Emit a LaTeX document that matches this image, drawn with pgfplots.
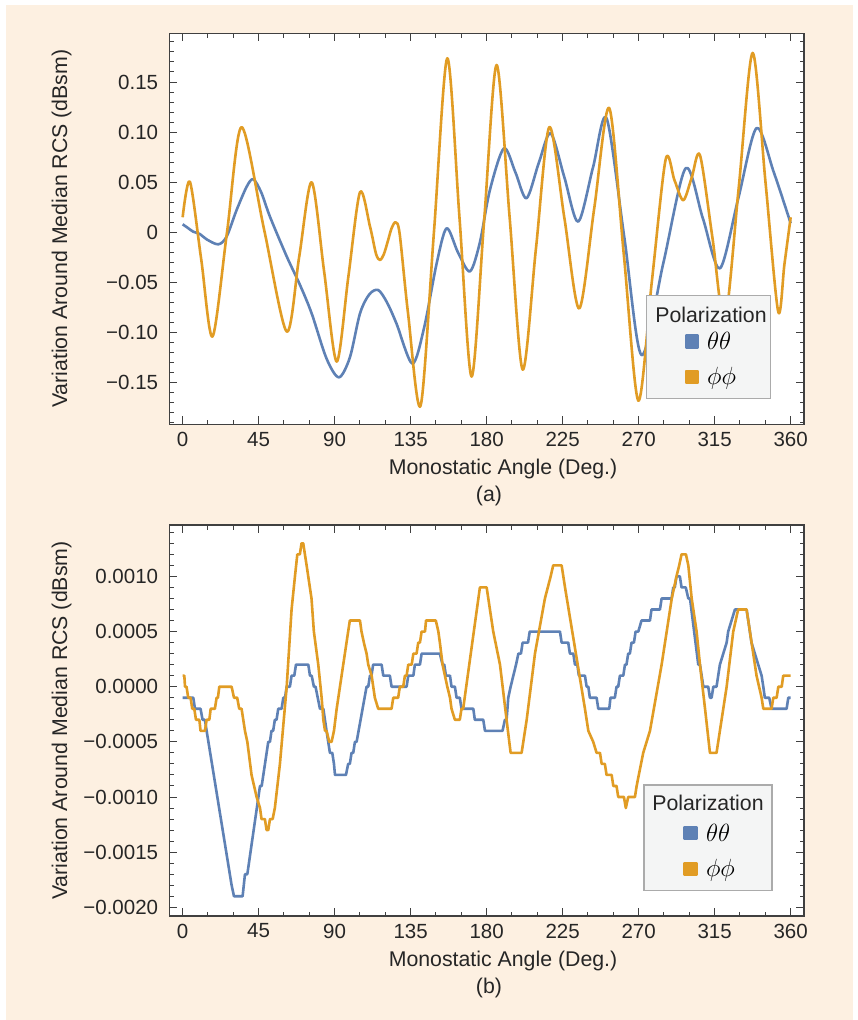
\documentclass[border=0pt]{standalone}
\usepackage{pgfplots}
\pgfplotsset{compat=1.18}
\usepackage{fontspec}
\setmainfont{Liberation Sans}
\definecolor{bgpeach}{HTML}{FDF0E1}
\definecolor{mblue}{HTML}{5E81B5}
\definecolor{morange}{HTML}{E19C24}
\definecolor{framecol}{HTML}{404040}
\definecolor{txtcol}{HTML}{262626}
\definecolor{legfill}{HTML}{F4F5F5}
\definecolor{legdraw}{HTML}{ABABAB}
\newcommand\fs{\fontsize{20.5}{24}\selectfont}
\newcommand\fl{\fontsize{21.3}{25}\selectfont}
\pgfplotsset{
 rcs/.style={
  scale only axis, width=634.7pt, height=391pt,
  xmin=-7.9, xmax=367.9,
  xtick={0,45,...,360}, xticklabels={0,45,90,135,180,225,270,315,360},
  minor xtick={15,30,60,75,105,120,150,165,195,210,240,255,285,300,330,345},
  tick align=inside, major tick length=8pt, minor tick length=4.5pt,
  axis line style={framecol, line width=1.1pt},
  every tick/.style={framecol, line width=1pt},
  axis background/.style={fill=white},
  tick label style={font=\fs, text=txtcol},
  xticklabel style={anchor=center, yshift=-15pt},
  yticklabel style={anchor=east, inner sep=0pt, xshift=-11pt},
  xlabel={Monostatic Angle (Deg.)},
  ylabel={Variation Around Median RCS (dBsm)},
  every axis x label/.style={at={(axis description cs:0.5258,-0.1151)}, anchor=center, font=\fl, text=txtcol},
  every axis y label/.style={at={(axis description cs:-0.1695,0.5)}, anchor=center, rotate=90, font=\fl, text=txtcol},
  clip mode=individual,
  legend cell align=left,
  legend image code/.code={\fill[##1] (0pt,-6pt) rectangle (12pt,6pt); \path (20pt,0pt);},
  legend style={draw=none, fill=none, inner sep=0pt, anchor=west, row sep=17pt, font=\fontsize{23}{27}\selectfont, nodes={inner sep=0pt}},
  every axis plot/.append style={line width=2.6pt, line join=round},
 }
}
\begin{document}
\begin{tikzpicture}
\fill[white] (0pt,0pt) rectangle (857pt,-1020pt);
\fill[bgpeach] (6pt,-5pt) rectangle (853.3pt,-1020pt);

% ---------------- (a) ----------------
\begin{scope}[xshift=169.3pt, yshift=-424.3pt]
\begin{axis}[rcs, at={(0pt,0pt)}, anchor=south west,
  ymin=-0.1916, ymax=0.1986,
  ytick={-0.15,-0.1,-0.05,0,0.05,0.1,0.15},
  yticklabels={−0.15,−0.10,−0.05,0,0.05,0.10,0.15},
  minor ytick={-0.19,-0.18,-0.17,-0.16,-0.14,-0.13,-0.12,-0.11,-0.09,-0.08,-0.07,-0.06,-0.04,-0.03,-0.02,-0.01,0.01,0.02,0.03,0.04,0.06,0.07,0.08,0.09,0.11,0.12,0.13,0.14,0.16,0.17,0.18,0.19},
  legend style={at={(0.8114,0.1665)}},
  legend entries={$\theta\theta$,$\phi\phi$},
]
\addplot[mblue, smooth] coordinates {
(0,0.008)(3,0.0045)(6.3,0.0006)(10.2,-0.0017)(14.2,-0.007)(21.1,-0.012)(26.0,-0.0044)(31.9,0.022)(37.9,0.0455)(41.8,0.053)(46.5,0.040)(51.7,0.0156)(61.6,-0.024)(69.5,-0.0526)(76.4,-0.081)(85.2,-0.126)(92.5,-0.1447)(99,-0.125)(105,-0.081)(110.5,-0.062)(115.8,-0.0576)(121,-0.07)(126.6,-0.091)(136.0,-0.131)(143,-0.095)(150.4,-0.031)(156.3,0.004)(163,-0.02)(170.1,-0.039)(176,-0.01)(181.9,0.042)(190.2,0.0838)(197,0.06)(203.6,0.034)(211,0.07)(217.9,0.0988)(226,0.055)(234.2,0.0106)(243,0.065)(251.0,0.1138)(261.5,-0.005)(271.7,-0.1225)(284.7,-0.03)(297.8,0.0639)(308,0.014)(318.1,-0.036)(329,0.034)(339.8,0.104)(350,0.06)(360,0.009)
};
\addplot[morange, smooth] coordinates {
(0,0.015)(4.3,0.0505)(11.0,-0.027)(17.7,-0.104)(26.3,0.0005)(34.9,0.105)(48.2,0.003)(61.6,-0.099)(69.0,-0.0245)(76.4,0.050)(83.8,-0.0395)(91.2,-0.129)(98.1,-0.0445)(105.0,0.040)(110.9,0.006)(114.5,-0.0215)(116.8,-0.0276)(119.1,-0.022)(121.5,-0.0088)(123.7,0.004)(126.1,0.010)(128.5,-0.0016)(133.5,-0.0815)(140.9,-0.173)(148.8,0.0004)(156.7,0.1737)(163.9,0.015)(171.1,-0.144)(178.5,0.0115)(185.9,0.167)(193.6,0.015)(201.3,-0.137)(209.2,-0.016)(217.1,0.105)(226.0,0.0145)(234.8,-0.076)(243.7,0.024)(252.6,0.124)(261.2,-0.022)(269.8,-0.168)(277.9,-0.0476)(286.0,0.0728)(291.2,0.052)(296.4,0.032)(301.4,0.0545)(306.3,0.077)(313.7,-0.0055)(321.0,-0.088)(329.3,0.0455)(337.5,0.179)(345.1,0.05)(352.6,-0.079)(356.3,-0.032)(360,0.015)
};
\draw[legdraw, fill=legfill, line width=1.3pt] (rel axis cs:0.7522,0.0665) rectangle (rel axis cs:0.9475,0.3289);
\node[font=\fl, text=txtcol] at (rel axis cs:0.8535,0.2795) {Polarization};
\end{axis}
\end{scope}
\node[font=\fl, text=txtcol] at (489pt,-496.3pt) {(a)};

% ---------------- (b) ----------------
\begin{scope}[xshift=169.3pt, yshift=-916pt]
\begin{axis}[rcs, at={(0pt,0pt)}, anchor=south west,
  ymin=-20.79, ymax=14.66,
  ytick={-20,-15,-10,-5,0,5,10},
  yticklabels={−0.0020,−0.0015,−0.0010,−0.0005,0.0000,0.0005,0.0010},
  minor ytick={-19,-18,-17,-16,-14,-13,-12,-11,-9,-8,-7,-6,-4,-3,-2,-1,1,2,3,4,6,7,8,9,11,12,13,14},
  legend style={at={(0.8098,0.1662)}},
  legend entries={$\theta\theta$,$\phi\phi$},
]
% values in units of 0.0001 dBsm
\addplot[mblue, sharp plot] coordinates {
(0,-1)(6.3,-1)(7.3,-2)(10.6,-2)(11.8,-3)(13.2,-3)(14.2,-4)(29,-18)(30.4,-19)(35.5,-19)(36.9,-17)(38.3,-17)(45.8,-9)(46.8,-9)(50.7,-5)(51.7,-5)(52.6,-4)(53.6,-4)(54.6,-3)(55.6,-3)(56.6,-2)(58.6,-2)(59.6,-1)(60.6,-1)(61.6,0)(63.5,0)(64.5,1)(66.1,1)(67.1,2)(74.4,2)(75.4,1)(76.4,1)(77.7,0)(78.7,0)(81.3,-2)(83.3,-2)(85.2,-4)(86.2,-5)(87.2,-6)(88.6,-6)(89.6,-7)(90.2,-8)(96.7,-8)(98.0,-7)(99,-7)(100,-6)(101,-6)(102,-5)(103,-5)(108.9,0)(109.9,0)(110.9,1)(111.8,1)(112.8,2)(117.8,2)(118.8,1)(122.7,1)(123.7,0)(132.6,0)(133.6,1)(136.6,1)(137.5,2)(140.5,2)(141.5,3)(152.3,3)(153.9,2)(154.9,2)(155.9,1)(158.3,1)(159.2,0)(161.2,0)(162.2,-1)(164.1,-1)(165.1,-2)(172.1,-2)(173.0,-3)(178.0,-3)(179.0,-4)(189.4,-4)(190.8,-3)(191.8,-3)(192.8,-1)(194.2,0)(195.8,1)(197.4,2)(198.8,3)(200.3,3)(201.3,4)(204.5,4)(205.5,5)(223.4,5)(224.4,4)(228.3,4)(229.3,3)(231.3,3)(232.3,2)(233.7,2)(234.6,1)(238.2,1)(239.2,0)(240.2,0)(241.1,-1)(245.1,-1)(246.1,-2)(252.6,-2)(253.3,-1)(255.9,-1)(256.9,0)(257.9,0)(258.9,1)(260.9,1)(261.9,2)(262.8,2)(263.8,3)(264.8,3)(265.8,4)(267.2,4)(268.2,5)(269.8,5)(271.7,6)(276.7,6)(277.6,7)(282.6,7)(283.6,8)(289.5,8)(290.5,9)(291.4,9)(292.4,10)(294.4,10)(295.4,9)(297.9,9)(299.4,8)(300.4,8)(305.3,2)(306.3,2)(307.3,1)(308.3,0)(311.2,0)(312.2,-1)(313.2,-1)(314.2,0)(316.1,0)(317.1,1)(318.1,2)(320.1,3)(322.1,4)(323.0,5)(325.0,6)(327.0,7)(333.9,7)(334.9,6)(336.8,4)(338.8,3)(340.8,2)(342.8,1)(343.8,0)(344.7,-1)(347.3,-1)(348.7,-2)(357.6,-2)(358.6,-1)(360,-1)
};
\addplot[morange, sharp plot] coordinates {
(0,1)(1.0,1)(1.4,0)(2.3,0)(3.3,-1)(4.7,-1)(5.7,-2)(6.9,-2)(7.9,-3)(9.9,-3)(10.6,-4)(13.2,-4)(14.2,-3)(15.8,-3)(16.6,-2)(19.1,-2)(20.1,-1)(20.9,-1)(21.7,0)(29.0,0)(30.4,-1)(32.3,-1)(33.5,-2)(34.9,-2)(35.9,-3)(36.9,-4)(38.3,-5)(40.8,-8)(43.8,-10)(45.8,-11)(46.7,-12)(48.7,-12)(49.7,-13)(50.7,-13)(51.7,-12)(53.3,-12)(54.6,-11)(57.6,-7)(61.6,0)(64.5,7)(66.5,10)(67.9,12)(69.4,12)(70.4,13)(71.4,13)(73.4,11)(76.3,8)(77.7,5)(80.3,2)(82.3,-1)(83.3,-3)(84.3,-4)(85.2,-4)(86.8,-5)(88.2,-5)(89.6,-4)(91.2,-2)(98.0,5)(99.0,6)(105.0,6)(105.9,5)(107.3,4)(108.9,3)(109.9,2)(111.9,1)(113.8,-1)(115.8,-2)(123.7,-2)(124.7,-1)(127.6,-1)(128.6,0)(130.6,0)(131.6,1)(132.6,1)(133.6,2)(135.6,2)(136.6,3)(138.5,3)(139.5,4)(140.5,4)(141.5,5)(143.5,5)(144.1,6)(149.9,6)(151.4,5)(152.3,4)(153.9,2)(156.7,0)(158.3,-1)(159.2,-2)(161.2,-3)(164.1,-3)(165.1,-2)(166.1,-2)(176.0,9)(180.0,9)(183.9,5)(187.9,2)(191.8,-3)(194.2,-6)(200.7,-6)(201.7,-5)(203.7,-3)(208.6,3)(214.5,8)(217.9,10)(219.4,11)(224.4,11)(226.4,9)(238.2,-2)(240.2,-4)(243.1,-5)(245.1,-6)(247.1,-6)(248.1,-7)(250.0,-7)(251.0,-8)(254.0,-8)(255.0,-9)(256.9,-9)(257.9,-10)(261.3,-10)(262.4,-11)(263.8,-10)(267.8,-10)(268.8,-9)(272.7,-6)(276.7,-4)(283.6,2)(286.6,5)(289.6,8)(292.4,10)(294.0,11)(295.4,12)(298.0,12)(299.4,11)(301.4,8)(304.3,5)(306.3,2)(309.3,-2)(312.2,-6)(316.1,-6)(317.1,-5)(322.1,0)(326.0,5)(328.9,7)(333.9,7)(334.9,6)(339.8,1)(342.8,-1)(343.8,-2)(348.7,-2)(349.7,-1)(351.7,-1)(352.7,0)(354.7,0)(355.6,1)(360,1)
};
\draw[legdraw, fill=legfill, line width=1.3pt] (rel axis cs:0.7479,0.0647) rectangle (rel axis cs:0.9496,0.335);
\node[font=\fl, text=txtcol] at (rel axis cs:0.8487,0.289) {Polarization};
\end{axis}
\end{scope}
\node[font=\fl, text=txtcol] at (489pt,-988pt) {(b)};
\end{tikzpicture}
\end{document}
